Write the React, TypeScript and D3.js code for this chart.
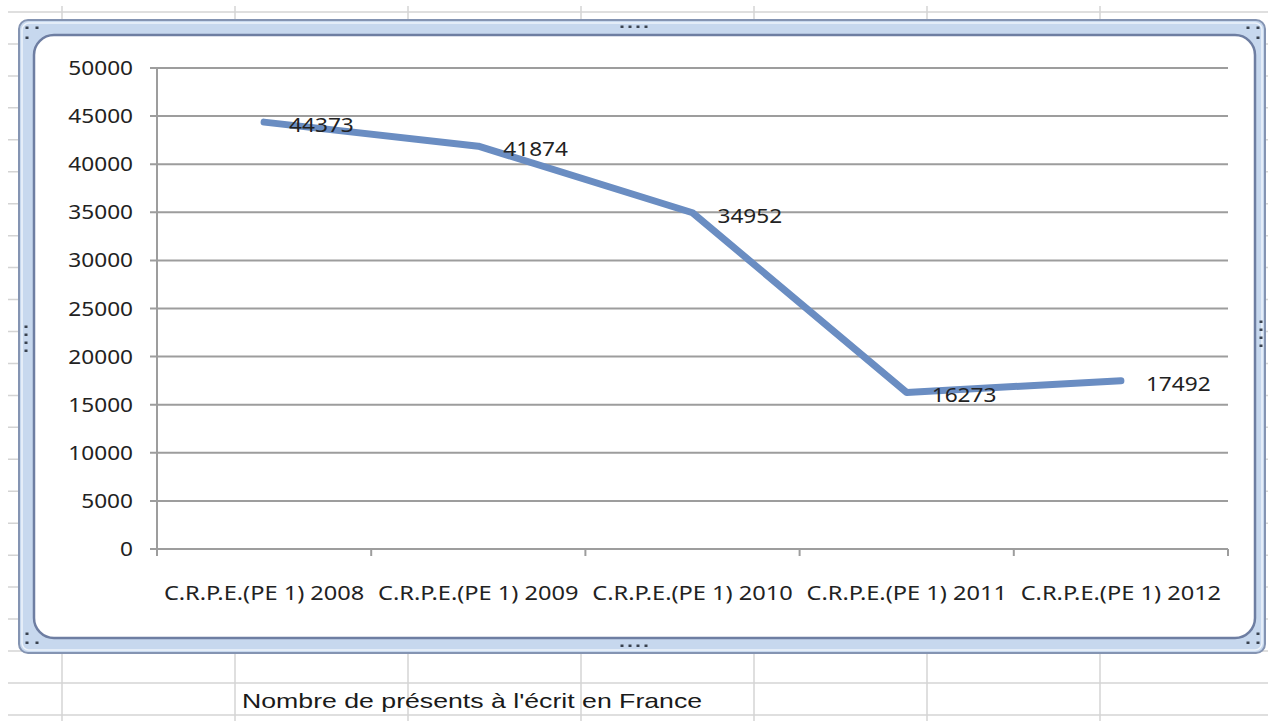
import React, { useRef, useEffect } from 'react';
import * as d3 from 'd3';

// Nombre de présents à l'écrit (CRPE)
const categories = [
  'C.R.P.E.(PE 1) 2008',
  'C.R.P.E.(PE 1) 2009',
  'C.R.P.E.(PE 1) 2010',
  'C.R.P.E.(PE 1) 2011',
  'C.R.P.E.(PE 1) 2012',
];
const values = [44373, 41874, 34952, 16273, 17492];
const yTicks = [0, 5000, 10000, 15000, 20000, 25000, 30000, 35000, 40000, 45000, 50000];
const caption = "Nombre de présents à l'écrit en France";

const W = 1268;
const H = 721;
const FONT = "'Noto Sans', 'Open Sans', sans-serif";

export default function App() {
  const ref = useRef<SVGSVGElement | null>(null);

  useEffect(() => {
    const svg = d3.select(ref.current);
    svg.selectAll('*').remove();

    // spreadsheet background grid
    const grid = svg.append('g');
    for (let k = 0; k < 23; k++) {
      const yy = 12 + k * 31.95;
      grid.append('line').attr('x1', 8).attr('x2', W).attr('y1', yy).attr('y2', yy)
        .attr('stroke', '#d4d4d4').attr('stroke-width', 1.5);
    }
    for (let k = 0; k < 8; k++) {
      const xx = 62 + k * 173;
      grid.append('line').attr('x1', xx).attr('x2', xx).attr('y1', 6).attr('y2', H)
        .attr('stroke', '#d4d4d4').attr('stroke-width', 1.5);
    }

    // caption in cell (screenshot is stretched horizontally)
    svg.append('text')
      .attr('transform', 'translate(242,708) scale(1.27,1)')
      .attr('font-family', "'Liberation Sans', Arial, sans-serif")
      .attr('font-size', 21)
      .attr('fill', '#1a1a1a')
      .text(caption);

    // chart selection frame
    svg.append('rect')
      .attr('x', 19).attr('y', 20).attr('width', 1246).attr('height', 633)
      .attr('rx', 9)
      .attr('fill', '#c7d8ee').attr('stroke', '#8494b2').attr('stroke-width', 2);
    svg.append('rect')
      .attr('x', 22).attr('y', 23).attr('width', 1240).attr('height', 627)
      .attr('rx', 7)
      .attr('fill', 'none').attr('stroke', '#eef4fb').attr('stroke-width', 1.5);
    svg.append('rect')
      .attr('x', 34).attr('y', 35).attr('width', 1221).attr('height', 603)
      .attr('rx', 20)
      .attr('fill', '#ffffff').attr('stroke', '#6e7ea2').attr('stroke-width', 2.5);

    // handles
    const dots: [number, number][] = [
      [27, 28], [37, 28], [27, 38],
      [27, 643], [27, 634], [37, 643],
      [1258, 28], [1248, 28], [1258, 38],
      [1258, 643], [1248, 643], [1258, 634],
      [622, 27], [630, 27], [638, 27], [646, 27],
      [622, 646], [630, 646], [638, 646], [646, 646],
      [26, 327], [26, 335], [26, 343], [26, 351],
      [1261, 322], [1261, 330], [1261, 338], [1261, 346],
    ];
    svg.append('g').selectAll('rect').data(dots).enter().append('rect')
      .attr('x', d => d[0] - 1.5).attr('y', d => d[1] - 1.5)
      .attr('width', 3).attr('height', 2.5).attr('fill', '#3a4350');

    // plot
    const x = d3.scaleBand().domain(categories).range([157, 1228]);
    const y = d3.scaleLinear().domain([0, 50000]).range([549, 68]);
    const cx = (c: string) => (x(c) as number) + x.bandwidth() / 2;

    const g = svg.append('g');
    g.selectAll('.grid').data(yTicks.filter(t => t > 0)).enter().append('line')
      .attr('x1', 150).attr('x2', 1228)
      .attr('y1', d => y(d)).attr('y2', d => y(d))
      .attr('stroke', '#9d9d9d').attr('stroke-width', 2);

    // axes
    g.append('line').attr('x1', 157).attr('x2', 157).attr('y1', y(50000)).attr('y2', y(0))
      .attr('stroke', '#9d9d9d').attr('stroke-width', 2);
    g.append('line').attr('x1', 150).attr('x2', 1228).attr('y1', y(0)).attr('y2', y(0))
      .attr('stroke', '#9d9d9d').attr('stroke-width', 2);
    const bounds = categories.map(c => x(c) as number).concat([1228]);
    g.selectAll('.xt').data(bounds).enter().append('line')
      .attr('x1', d => d).attr('x2', d => d)
      .attr('y1', y(0)).attr('y2', y(0) + 7)
      .attr('stroke', '#9d9d9d').attr('stroke-width', 2);

    g.selectAll('.yl').data(yTicks).enter().append('text')
      .attr('transform', d => `translate(133,${y(d) + 7}) scale(1.16,1)`)
      .attr('text-anchor', 'end')
      .attr('font-family', FONT).attr('font-size', 19.5)
      .attr('fill', '#222')
      .text(d => String(d));

    g.selectAll('.xl').data(categories).enter().append('text')
      .attr('transform', d => `translate(${cx(d)},600) scale(1.18,1)`)
      .attr('text-anchor', 'middle')
      .attr('font-family', FONT).attr('font-size', 20)
      .attr('fill', '#222')
      .text(d => d);

    // series line
    const data = categories.map((c, i) => ({ c, v: values[i] }));
    const line = d3.line<{ c: string; v: number }>()
      .x(d => cx(d.c)).y(d => y(d.v));
    g.append('path').datum(data)
      .attr('d', line)
      .attr('fill', 'none')
      .attr('stroke', '#6a8dc2')
      .attr('stroke-width', 7)
      .attr('stroke-linecap', 'round')
      .attr('stroke-linejoin', 'round');

    g.selectAll('.dl').data(data).enter().append('text')
      .attr('transform', d => `translate(${cx(d.c) + 25},${y(d.v) + 10}) scale(1.16,1)`)
      .attr('font-family', FONT).attr('font-size', 19.5)
      .attr('fill', '#222')
      .text(d => String(d.v));
  }, []);

  return (
    <svg ref={ref} width={W} height={H}
      style={{ position: 'absolute', left: 0, top: 0, background: '#fff' }} />
  );
}
